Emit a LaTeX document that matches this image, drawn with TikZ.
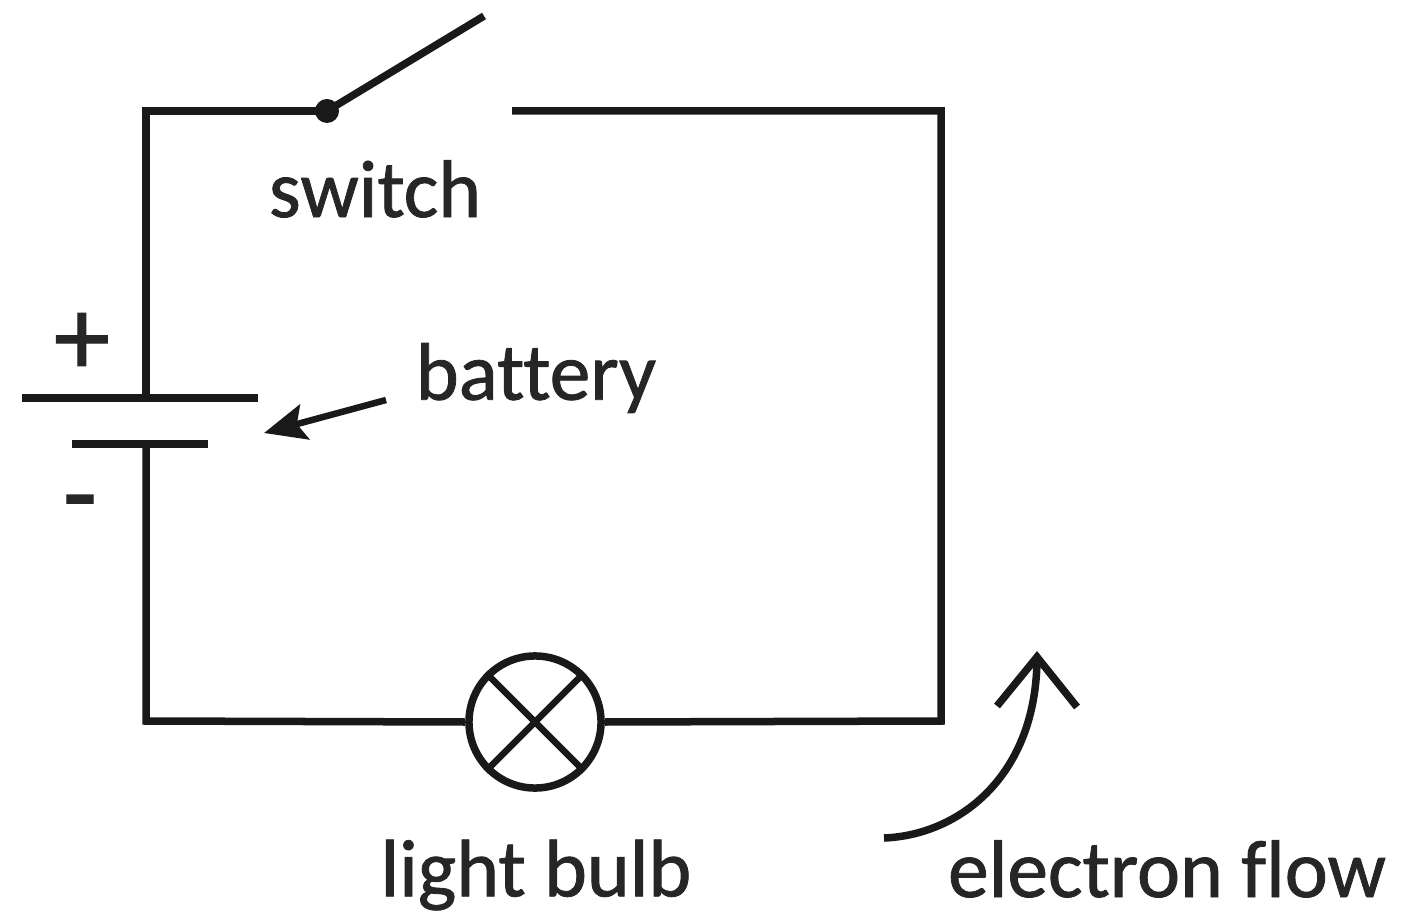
\documentclass[tikz,border=0pt]{standalone}
\usepackage{fontspec}
\setmainfont[Ligatures=NoCommon,UprightFeatures={FakeBold=1}]{Carlito}
\usetikzlibrary{calc,arrows.meta}

\begin{document}
\begin{tikzpicture}
      [x=.01cm,y=-.01cm
    % line widths and label font
      ,wire/.style={draw=black!90,line width=.075cm}
      ,lab/.style={inner sep=0pt,text=black!85,font=\fontsize{23.2}{24}\selectfont}
      ,sign/.style={lab,font=\fontsize{32}{32}\selectfont}
      ,pointer/.style={wire,line width=.065cm}
      ]
        \useasboundingbox (0,0) rectangle (1416,913);
    % corners of the loop
        \coordinate (tl) at (146,111);
        \coordinate (tr) at (941,111);
        \coordinate (br) at (941,721);
        \coordinate (bl) at (146,721);
        \coordinate (pivot) at (327,111);
        \coordinate (blade) at (484,16);
        \coordinate (contact) at (512,111);
        \coordinate (platetop) at (146,398);
        \coordinate (platelow) at (146,444);
        \node[circle,wire,minimum size=1.32cm,inner sep=0pt] (bulb) at (535,722) {};

        \draw[wire,line join=miter] (platetop) -- (tl) -- (pivot);
        \fill[black!90] (pivot) circle (.12cm);
        \draw[wire] (pivot) -- (blade);
        \draw[wire,line join=miter] (contact) -- (tr) -- (br) -- (bulb.east);
        \draw[wire,line join=miter] (bulb.west) -- (bl) -- (platelow);
    % the lamp cross
        \draw[pointer] (bulb.north west) -- (bulb.south east);
        \draw[pointer] (bulb.south west) -- (bulb.north east);
    % battery plates
        \draw[wire] (22,398) -- (258,398);
        \draw[wire] (72,444) -- (208,444);

        \node[lab] (switch) at (375,189) {switch};
        \node[lab] (battery) at (536,378) {battery};
        \node[lab] (light) at (536,875) {light bulb};
        \node[lab] (flow) at (1167,869) {electron flow};
        \node[sign] (plus) at (82,344) {+};
        \node[sign] (minus) at (80,513) {-};

        \coordinate (battip) at (264,433);
        \coordinate (battail) at (386,400);
        \draw[pointer,-{Stealth[length=.42cm,width=.36cm,inset=.08cm]}] (battail) -- (battip);
        \coordinate (flowstart) at (884,838);
        \coordinate (flowtip) at (1037,657);
        \draw[wire] (flowstart) .. controls (960,835) and (1037,775) .. (flowtip);
        \draw[wire,line join=miter] (997,706) -- (flowtip) -- (1077,707);
       \end{tikzpicture}
\end{document}
